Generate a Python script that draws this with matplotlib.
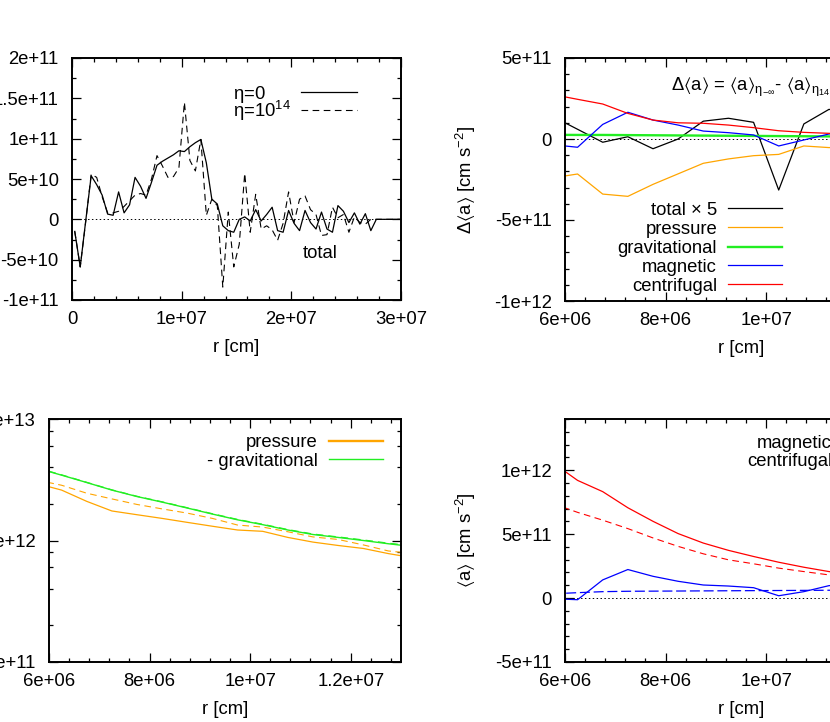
import numpy as np
import matplotlib.pyplot as plt
from matplotlib.ticker import MultipleLocator, LogLocator, FuncFormatter, NullFormatter

plt.rcParams.update({
    "font.family": ["Liberation Sans", "DejaVu Sans"],
    "font.size": 13.3,
    "mathtext.fontset": "custom",
    "mathtext.rm": "Liberation Sans",
    "mathtext.default": "regular",
})

ORANGE = "#ffa500"
GREEN = "#22ee22"
BLUE = "#0000ff"
RED = "#ff0000"

# ---- panel 1: total acceleration, full radial range (r in 1e6 cm, a in 1e10 cm/s^2)
r_tot = [0.25, 0.75, 1.25, 1.75, 2.25, 2.75, 3.25, 3.75, 4.25, 4.75,
         5.25, 5.75, 6.25, 6.75, 7.25, 7.75, 8.25, 8.75, 9.25, 9.75,
         10.25, 10.75, 11.25, 11.75, 12.25, 12.75, 13.25, 13.75, 14.25, 14.75,
         15.25, 15.75, 16.25, 16.75, 17.25, 17.75, 18.25, 18.75, 19.25, 19.75,
         20.25, 20.75, 21.25, 21.75, 22.25, 22.75, 23.25, 23.75, 24.25, 24.75,
         25.25, 25.75, 26.25, 26.75, 27.25, 27.75, 28.25, 28.75, 29.25, 29.75, 30.25]
tot_eta0 = [-1.5, -5.9, -0.2, 5.4, 4.3, 3.0, 0.65, 0.5, 3.4, 0.8,
            1.8, 5.2, 4.1, 2.6, 4.6, 6.7, 7.2, 7.6, 8.0, 8.5,
            8.4, 9.0, 9.5, 9.9, 7.0, 2.5, 1.9, -0.8, -1.4, -1.6,
            0.0, 0.3, -0.2, 1.2, -0.2, 0.6, 1.5, -1.4, -1.6, 1.1,
            -0.5, -1.4, 1.1, -0.4, -1.2, 0.9, -1.2, -1.6, 1.7, 1.0,
            -0.4, 0.8, -0.6, 0.7, -1.4, 0.0, 0.0, 0.0, 0.0, 0.0, 0.0]
tot_eta14 = [-1.5, -5.9, -0.3, 5.6, 5.2, 2.8, 0.8, 0.8, 1.0, 1.6,
             2.3, 3.0, 3.2, 3.0, 5.0, 7.9, 6.6, 5.2, 5.3, 6.4,
             14.5, 7.3, 6.0, 9.9, 0.5, 2.5, 1.7, -8.4, 0.9, -5.9,
             -3.1, 5.7, -1.6, 3.1, -1.2, -0.8, -1.3, -2.6, -0.5, 3.4,
             -0.4, 2.5, 2.9, 1.2, 0.6, -2.0, -1.9, 1.5, 0.2, 0.6,
             -1.6, 0.3, -0.4, -0.6, 0.0, 0.0, 0.0, 0.0, 0.0, 0.0, 0.0]

# ---- panels 2-4: inner region (r in 1e6 cm)
r_in = [5.75, 6.25, 6.75, 7.25, 7.75, 8.25, 8.75, 9.25, 9.75, 10.25,
        10.75, 11.25, 11.75, 12.25, 12.75, 13.25]

# panel 2: difference of accelerations (1e11 cm/s^2), visible up to ~1.13e7
d_total5 = [1.4, 0.6, -0.2, 0.14, -0.6, 0.0, 1.1, 1.28, 1.03, -3.15, 0.93, 1.83, 1.5]
d_press = [-2.4, -2.16, -3.4, -3.54, -2.8, -2.15, -1.5, -1.23, -1.03, -0.95, -0.43, -0.53, -0.5]
d_grav = [0.26, 0.25, 0.25, 0.24, 0.23, 0.22, 0.21, 0.2, 0.19, 0.18, 0.17, 0.16, 0.15]
d_magn = [-0.35, -0.51, 0.9, 1.65, 1.17, 0.86, 0.49, 0.39, 0.25, -0.43, -0.06, 0.31, 0.4]
d_cent = [2.75, 2.45, 2.16, 1.58, 1.17, 1.0, 0.97, 0.86, 0.7, 0.51, 0.41, 0.35, 0.3]

# panel 3: pressure and -gravitational (1e12 cm/s^2), log scale
p_eta0 = [2.95, 2.6, 2.1, 1.75, 1.63, 1.52, 1.41, 1.31, 1.22, 1.19, 1.06, 0.97, 0.91, 0.86, 0.78, 0.72]
p_eta14 = [3.15, 2.85, 2.45, 2.2, 1.98, 1.82, 1.68, 1.52, 1.34, 1.29, 1.18, 1.07, 1.02, 0.92, 0.82, 0.78]
g_eta0 = [3.95, 3.45, 3.0, 2.6, 2.3, 2.07, 1.85, 1.65, 1.48, 1.35, 1.22, 1.12, 1.06, 1.0, 0.94, 0.89]
g_eta14 = [3.97, 3.47, 3.01, 2.61, 2.31, 2.08, 1.86, 1.66, 1.49, 1.36, 1.23, 1.13, 1.07, 1.01, 0.95, 0.9]

# panel 4: magnetic and centrifugal (1e11 cm/s^2)
c_eta0 = [10.6, 9.2, 8.32, 7.06, 6.0, 5.04, 4.3, 3.73, 3.25, 2.8, 2.41, 2.07, 1.8]
c_eta14 = [7.4, 6.7, 6.09, 5.43, 4.7, 4.04, 3.46, 2.99, 2.68, 2.34, 2.07, 1.81, 1.6]
m_eta0 = [-0.05, -0.13, 1.42, 2.23, 1.7, 1.31, 1.02, 0.94, 0.81, 0.18, 0.5, 0.97, 1.1]
m_eta14 = [0.33, 0.42, 0.5, 0.53, 0.54, 0.55, 0.56, 0.57, 0.58, 0.59, 0.6, 0.61, 0.62]

W, H = 830, 722
fig = plt.figure(figsize=(W / 100, H / 100), dpi=100)


def axes_px(left, top, width, height):
    return fig.add_axes([left / W, 1 - (top + height) / H, width / W, height / H])


gfmt = FuncFormatter(lambda v, p: "%g" % v)


def style(ax, xmaj, xmin, ymaj=None, ymin=None):
    ax.tick_params(which="both", direction="in", top=True, right=True, width=0.9)
    ax.tick_params(which="major", length=6.5)
    ax.tick_params(which="minor", length=3.2)
    ax.tick_params(axis="x", pad=8)
    ax.tick_params(axis="y", pad=9.5)
    for s in ax.spines.values():
        s.set_linewidth(1.4)
    ax.xaxis.set_major_locator(MultipleLocator(xmaj))
    ax.xaxis.set_minor_locator(MultipleLocator(xmin))
    ax.xaxis.set_major_formatter(gfmt)
    if ymaj is not None:
        ax.yaxis.set_major_locator(MultipleLocator(ymaj))
        ax.yaxis.set_minor_locator(MultipleLocator(ymin))
    ax.yaxis.set_major_formatter(gfmt)
    ax.set_xlabel("r [cm]")
    ax.xaxis.set_label_coords(0.5, -0.16)


def key(ax, entries, xt, x0, x1, ys, ha="right"):
    for (label, kw), y in zip(entries, ys):
        ax.text(xt, y - 0.0275, label, transform=ax.transAxes, ha=ha, va="baseline")
        ax.plot([x0, x1], [y, y], transform=ax.transAxes, clip_on=False, **kw)


def zero(ax):
    ax.axhline(0, color="black", lw=0.7, ls=(0, (1.5, 2.5)))


r_tot = np.array(r_tot) * 1e6
r_in = np.array(r_in) * 1e6
n = len(d_total5)

# top left
ax1 = axes_px(72, 58, 329, 242)
zero(ax1)
ax1.plot(r_tot, np.array(tot_eta0) * 1e10, color="black", lw=0.9)
ax1.plot(r_tot, np.array(tot_eta14) * 1e10, color="black", lw=0.8, dashes=(6, 4))
ax1.set_xlim(0, 3e7)
ax1.set_ylim(-1e11, 2e11)
style(ax1, 1e7, 2e6, 5e10, 2.5e10)
key(ax1, [(r"$\eta$=0", dict(color="black", lw=0.9)),
          (r"$\eta$=10$^{14}$", dict(color="black", lw=0.8, dashes=(6, 4)))],
    0.489, 0.696, 0.866, [0.860, 0.785], ha="left")
ax1.text(0.702, 0.172, "total", transform=ax1.transAxes, ha="left", va="baseline")

# top right
ax2 = axes_px(565, 58, 352, 243)
zero(ax2)
ax2.plot(r_in[:n], np.array(d_total5) * 1e11, color="black", lw=0.9)
ax2.plot(r_in[:n], np.array(d_press) * 1e11, color=ORANGE, lw=0.9)
ax2.plot(r_in[:n], np.array(d_grav) * 1e11, color=GREEN, lw=1.7)
ax2.plot(r_in[:n], np.array(d_magn) * 1e11, color=BLUE, lw=0.9)
ax2.plot(r_in[:n], np.array(d_cent) * 1e11, color=RED, lw=0.9)
ax2.set_xlim(6e6, 1.3e7)
ax2.set_ylim(-1e12, 5e11)
style(ax2, 2e6, 4e5, 5e11, 1e11)
ax2.set_ylabel(r"$\Delta\langle a\rangle$ [cm s$^{-2}$]")
ax2.yaxis.set_label_coords(-0.247, 0.5)
key(ax2, [("total × 5", dict(color="black", lw=0.9)),
          ("pressure", dict(color=ORANGE, lw=0.9)),
          ("gravitational", dict(color=GREEN, lw=1.7)),
          ("magnetic", dict(color=BLUE, lw=0.9)),
          ("centrifugal", dict(color=RED, lw=0.9))],
    0.432, 0.463, 0.616, [0.3815, 0.3025, 0.224, 0.148, 0.070])
ax2.text(0.301, 0.865,
         r"$\Delta\langle a\rangle$ = $\langle a\rangle_{\eta_{-\infty}}$- $\langle a\rangle_{\eta_{14}}$",
         transform=ax2.transAxes, ha="left", va="baseline")

# bottom left
ax3 = axes_px(49, 419, 352, 243)
ax3.plot(r_in, np.array(p_eta0) * 1e12, color=ORANGE, lw=0.9)
ax3.plot(r_in, np.array(p_eta14) * 1e12, color=ORANGE, lw=0.8, dashes=(6, 4))
ax3.plot(r_in, np.array(g_eta0) * 1e12, color=GREEN, lw=1.0)
ax3.plot(r_in, np.array(g_eta14) * 1e12, color=GREEN, lw=0.9, dashes=(6, 4))
ax3.set_yscale("log")
ax3.set_xlim(6e6, 1.3e7)
ax3.set_ylim(1e11, 1e13)
style(ax3, 2e6, 4e5)
ax3.yaxis.set_major_locator(LogLocator(base=10, numticks=5))
ax3.yaxis.set_minor_locator(LogLocator(base=10, subs=[2, 4, 6, 8], numticks=10))
ax3.yaxis.set_minor_formatter(NullFormatter())
key(ax3, [("pressure", dict(color=ORANGE, lw=1.7)),
          ("- gravitational", dict(color=GREEN, lw=1.0))],
    0.764, 0.795, 0.949, [0.911, 0.834])

# bottom right
ax4 = axes_px(565, 419, 352, 243)
zero(ax4)
ax4.plot(r_in[:n], np.array(c_eta0) * 1e11, color=RED, lw=0.9)
ax4.plot(r_in[:n], np.array(c_eta14) * 1e11, color=RED, lw=0.8, dashes=(6, 4))
ax4.plot(r_in[:n], np.array(m_eta0) * 1e11, color=BLUE, lw=0.9)
ax4.plot(r_in[:n], np.array(m_eta14) * 1e11, color=BLUE, lw=0.9, dashes=(8, 3))
ax4.set_xlim(6e6, 1.3e7)
ax4.set_ylim(-5e11, 1.4e12)
style(ax4, 2e6, 4e5, 5e11, 1e11)
ax4.set_ylabel(r"$\langle a\rangle$ [cm s$^{-2}$]")
ax4.yaxis.set_label_coords(-0.247, 0.5)
key(ax4, [("magnetic", dict(color=BLUE, lw=0.9)),
          ("centrifugal", dict(color=RED, lw=0.9))],
    0.759, 0.79, 0.943, [0.909, 0.834])

fig.savefig("out.png", dpi=100)
